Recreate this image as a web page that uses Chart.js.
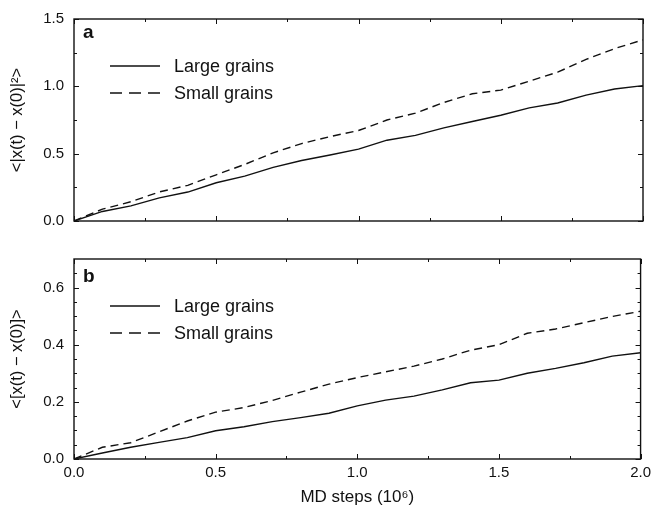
<!DOCTYPE html>
<html>
<head>
<meta charset="utf-8">
<script src="https://cdn.jsdelivr.net/npm/chart.js@4.4.0/dist/chart.umd.min.js"></script>
<style>
  html, body { margin: 0; padding: 0; background: #fff; }
  #wrap { position: relative; width: 656px; height: 512px; }
  .panel { position: absolute; left: 0; width: 656px; }
  #panelA { top: 0; height: 240px; }
  #panelB { top: 240px; height: 272px; }
</style>
</head>
<body>
<div id="wrap">
  <div class="panel" id="panelA"><canvas id="chartA" width="656" height="240"></canvas></div>
  <div class="panel" id="panelB"><canvas id="chartB" width="656" height="272"></canvas></div>
</div>
<script>
// MD steps (10^6)
const mdSteps = [0.0, 0.1, 0.2, 0.3, 0.4, 0.5, 0.6, 0.7, 0.8, 0.9, 1.0,
                 1.1, 1.2, 1.3, 1.4, 1.5, 1.6, 1.7, 1.8, 1.9, 2.0];

// panel a: <|x(t) - x(0)|^2>
const msdLarge = [0.0, 0.071, 0.112, 0.172, 0.215, 0.284, 0.333, 0.398, 0.449, 0.490, 0.534,
                  0.600, 0.636, 0.692, 0.739, 0.785, 0.840, 0.876, 0.935, 0.980, 1.005];
const msdSmall = [0.0, 0.088, 0.143, 0.216, 0.265, 0.343, 0.420, 0.506, 0.575, 0.627, 0.672,
                  0.750, 0.801, 0.880, 0.945, 0.972, 1.038, 1.105, 1.200, 1.280, 1.345];

// panel b: <[x(t) - x(0)]>
const dispLarge = [0.0, 0.021, 0.041, 0.058, 0.075, 0.099, 0.113, 0.131, 0.145, 0.160, 0.186,
                   0.206, 0.220, 0.242, 0.267, 0.276, 0.300, 0.317, 0.337, 0.360, 0.372];
const dispSmall = [0.0, 0.041, 0.057, 0.095, 0.133, 0.164, 0.180, 0.205, 0.234, 0.262, 0.285,
                   0.305, 0.325, 0.350, 0.381, 0.400, 0.440, 0.455, 0.477, 0.499, 0.517];

const seriesNames = ['Large grains', 'Small grains'];

const xTicks = [0.0, 0.5, 1.0, 1.5, 2.0];
const xMinorTicks = [0.25, 0.75, 1.25, 1.75];
const yTicksA = [0.0, 0.5, 1.0, 1.5];
const yMinorA = [0.25, 0.75, 1.25];
const yTicksB = [0.0, 0.2, 0.4, 0.6];
const yMinorB = [0.05, 0.1, 0.15, 0.25, 0.3, 0.35, 0.45, 0.5, 0.55, 0.65];

const FONT = "'Liberation Sans', Arial, Helvetica, sans-serif";
const INK = '#111';
Chart.defaults.font.family = FONT;
Chart.defaults.color = INK;

function toPoints(values) {
    return mdSteps.map((x, i) => ({ x: x, y: values[i] }));
}

// frame, inward ticks, panel letter and legend
function panelDecor(letter, letterDy, yMajor, yMinor) {
    return {
        id: 'panelDecor',
        afterDraw(chart) {
            const { ctx, chartArea: a, scales: { x, y } } = chart;
            ctx.save();
            ctx.strokeStyle = INK;
            ctx.lineWidth = 1.4;
            ctx.strokeRect(a.left, a.top, a.right - a.left, a.bottom - a.top);

            ctx.lineWidth = 1;
            const seg = (x1, y1, x2, y2) => {
                ctx.beginPath();
                ctx.moveTo(x1, y1);
                ctx.lineTo(x2, y2);
                ctx.stroke();
            };
            const xMarks = (vals, len) => vals.forEach((v) => {
                const px = Math.round(x.getPixelForValue(v)) + 0.5;
                seg(px, a.bottom, px, a.bottom - len);
                seg(px, a.top, px, a.top + len);
            });
            const yMarks = (vals, len) => vals.forEach((v) => {
                const py = Math.round(y.getPixelForValue(v)) + 0.5;
                seg(a.left, py, a.left + len, py);
                seg(a.right, py, a.right - len, py);
            });
            xMarks(xTicks, 5);
            xMarks(xMinorTicks, 3);
            yMarks(yMajor, 5);
            yMarks(yMinor, 3);

            // panel letter
            ctx.fillStyle = INK;
            ctx.font = 'bold 19px ' + FONT;
            ctx.textBaseline = 'alphabetic';
            ctx.textAlign = 'left';
            ctx.fillText(letter, a.left + 9, a.top + letterDy);

            // legend
            const styles = [[], [12, 7]];
            ctx.font = '18px ' + FONT;
            ctx.textBaseline = 'middle';
            seriesNames.forEach((name, i) => {
                const ly = a.top + 47 + i * 27;
                ctx.setLineDash(styles[i]);
                ctx.lineWidth = 1.3;
                seg(a.left + 36, ly, a.left + 86, ly);
                ctx.setLineDash([]);
                ctx.fillText(name, a.left + 100, ly + 1);
            });
            ctx.restore();
        },
    };
}

function makeDatasets(large, small) {
    return [
        {
            label: seriesNames[0],
            data: toPoints(large),
            borderColor: INK,
            borderWidth: 1.4,
            pointRadius: 0,
            tension: 0,
        },
        {
            label: seriesNames[1],
            data: toPoints(small),
            borderColor: INK,
            borderWidth: 1.4,
            borderDash: [8, 5],
            pointRadius: 0,
            tension: 0,
        },
    ];
}

function makeChart(canvasId, opts) {
    return new Chart(document.getElementById(canvasId), {
        type: 'line',
        data: { datasets: makeDatasets(opts.large, opts.small) },
        options: {
            responsive: false,
            animation: false,
            layout: { padding: { top: opts.padTop, right: 13, left: 0, bottom: 0 } },
            plugins: { legend: { display: false }, tooltip: { enabled: false } },
            scales: {
                x: {
                    type: 'linear',
                    min: 0,
                    max: 2,
                    afterBuildTicks: (s) => { s.ticks = xTicks.map((v) => ({ value: v })); },
                    afterFit: (s) => { s.height = opts.xHeight; },
                    grid: { display: false, drawTicks: false },
                    border: { display: false },
                    ticks: {
                        display: opts.showX,
                        padding: 5,
                        font: { size: 15 },
                        maxRotation: 0,
                        callback: (v) => Number(v).toFixed(1),
                    },
                    title: {
                        display: opts.showX,
                        text: 'MD steps (10⁶)',
                        font: { size: 17 },
                        padding: { top: 2, bottom: 4 },
                    },
                },
                y: {
                    type: 'linear',
                    min: 0,
                    max: opts.yMax,
                    afterBuildTicks: (s) => { s.ticks = opts.yMajor.map((v) => ({ value: v })); },
                    afterFit: (s) => { s.width = 74; },
                    grid: { display: false, drawTicks: false },
                    border: { display: false },
                    ticks: {
                        padding: 10,
                        font: { size: 15 },
                        callback: (v) => Number(v).toFixed(1),
                    },
                    title: {
                        display: true,
                        text: opts.yTitle,
                        font: { size: 16.5 },
                        padding: { top: 8, bottom: 0 },
                    },
                },
            },
        },
        plugins: [panelDecor(opts.letter, opts.letterDy, opts.yMajor, opts.yMinor)],
    });
}

makeChart('chartA', {
    large: msdLarge, small: msdSmall,
    yMax: 1.5, yMajor: yTicksA, yMinor: yMinorA,
    yTitle: '<|x(t) − x(0)|²>',
    letter: 'a', letterDy: 19,
    padTop: 19, xHeight: 15, showX: false,
});

makeChart('chartB', {
    large: dispLarge, small: dispSmall,
    yMax: 0.7, yMajor: yTicksB, yMinor: yMinorB,
    yTitle: '<[x(t) − x(0)]>',
    letter: 'b', letterDy: 23,
    padTop: 14, xHeight: 53, showX: true,
});
</script>
</body>
</html>
